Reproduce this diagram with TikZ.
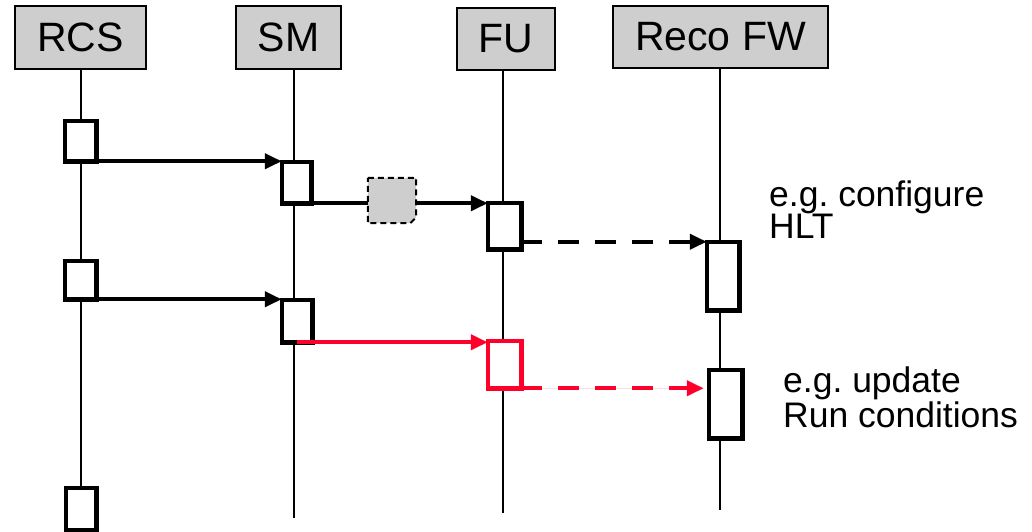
\documentclass[tikz,border=0pt]{standalone}
\usepackage{fontspec}
\setmainfont{Liberation Sans}
\usetikzlibrary{arrows.meta}
\definecolor{hdrgray}{RGB}{206,206,206}
\definecolor{msgred}{RGB}{255,0,43}
\frenchspacing

\begin{document}
\begin{tikzpicture}[x=1pt,y=-1pt,
  header/.style={draw, line width=2pt, fill=hdrgray, inner sep=0pt,
    font=\fontsize{41}{49}\selectfont},
  lifeline/.style={line width=2pt},
  act/.style={draw, line width=4.5pt, fill=white, inner sep=0pt},
  msg/.style={line width=4pt, -{Triangle[length=17pt,width=15pt]}},
  reply/.style={msg, dash pattern=on 21pt off 16pt},
  pending/.style={line width=2pt, dash pattern=on 6pt off 4pt, fill=hdrgray},
  note/.style={align=left, inner sep=0pt, font=\fontsize{35.5}{32}\selectfont},
]
\useasboundingbox (0,0) rectangle (1032,531);

% participants
\node[header, minimum width=131, minimum height=63] (rcs) at (80.5,37.5) {RCS};
\node[header, minimum width=105, minimum height=63] (sm) at (288.5,37.5) {SM};
\node[header, minimum width=98, minimum height=62] (fu) at (506,39) {FU};
\node[header, minimum width=215, minimum height=62] (reco) at (720.5,37) {Reco FW};

% lifeline ends
\coordinate (smend) at (294,518);
\coordinate (fuend) at (503,513);
\coordinate (recoend) at (720,510);

% activation boxes (placed first so the lifelines can be drawn between them)
\node[act, minimum width=27, minimum height=36] (rcs1) at (80.5,141) {};
\node[act, minimum width=25, minimum height=37] (sm1) at (296.5,182.5) {};
\node[act, minimum width=29, minimum height=42] (fu1) at (504.5,226) {};
\node[act, minimum width=28, minimum height=64] (reco1) at (723,276) {};
\node[act, minimum width=27, minimum height=34] (rcs2) at (80.5,280) {};
\node[act, minimum width=26, minimum height=38] (sm2) at (297,321) {};
\node[act, draw=msgred, minimum width=29, minimum height=43] (fu2) at (504.5,364.5) {};
\node[act, minimum width=29, minimum height=64] (reco2) at (725.5,404) {};
\node[act, minimum width=26, minimum height=38] (rcs3) at (81,509) {};

% lifelines
\draw[lifeline] (rcs.south -| rcs3.north) -- (rcs3.north);
\draw[lifeline] (sm.south -| smend) -- (smend);
\draw[lifeline] (fu.south -| fuend) -- (fuend);
\draw[lifeline] (reco.south -| recoend) -- (recoend);

% boxes drawn again on top of the lifelines
\foreach \b in {rcs1,sm1,fu1,reco1,rcs2,sm2,reco2,rcs3}
  \draw[line width=4.5pt, fill=white] (\b.north west) rectangle (\b.south east);
\draw[line width=4.5pt, draw=msgred, fill=white] (fu2.north west) rectangle (fu2.south east);

% pending message between SM and FU
\node[minimum width=48, minimum height=45, inner sep=0pt] (cfg) at (392,200.5) {};
\draw[pending] (cfg.north west) -- (cfg.north east) -- ([yshift=6pt]cfg.south east)
  -- ([xshift=-6pt]cfg.south east) -- (cfg.south west) -- cycle;

% messages
\draw[msg] (rcs1.south east) -- (rcs1.south east -| sm1.west);
\draw[line width=4pt] (sm1.south) -- (sm1.south -| cfg.west);
\draw[msg] (sm1.south -| cfg.east) -- (sm1.south -| fu1.west);
\draw[reply] (reco1.north west -| fu1.east) -- (reco1.north west);
\draw[msg] (rcs2.south east) -- (rcs2.south east -| sm2.west);
\draw[msg, draw=msgred, fill=msgred] (sm2.south) -- (sm2.south -| fu2.west);
\draw[reply, draw=msgred, fill=msgred, shorten >=5pt] (fu2.south east) -- (fu2.south east -| reco2.west);

% notes
\node[note, anchor=base west] (n1) at (769,238) {e.g. configure\\HLT};
\node[note, anchor=base west] (n2) at (783,427) {e.g. update\\Run conditions};
\end{tikzpicture}
\end{document}
